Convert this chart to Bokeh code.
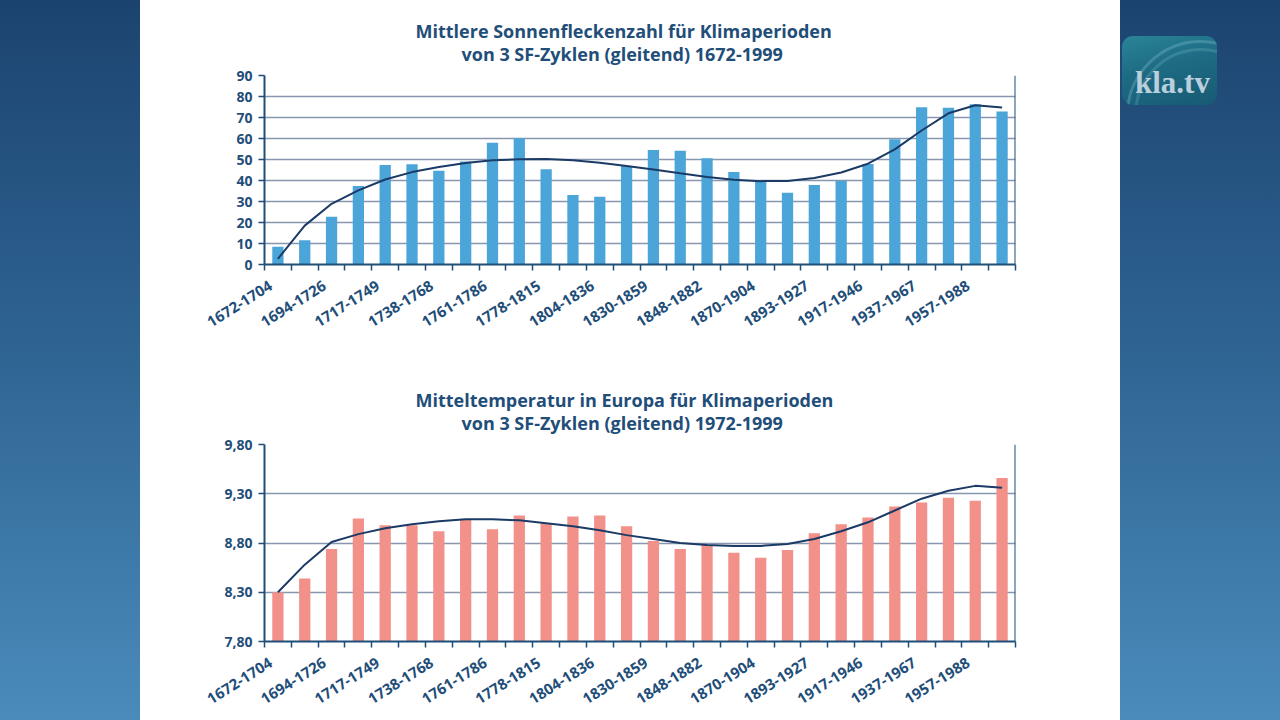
from bokeh.plotting import figure
from bokeh.models import FixedTicker, CustomJSTickFormatter, Span, Title, Div, Spacer
from bokeh.layouts import row, column
from bokeh.embed import file_html
from bokeh.resources import INLINE

# ---------------- data ----------------
period_labels = ["1672-1704", "1694-1726", "1717-1749", "1738-1768", "1761-1786",
                 "1778-1815", "1804-1836", "1830-1859", "1848-1882", "1870-1904",
                 "1893-1927", "1917-1946", "1937-1967", "1957-1988"]
period_index = list(range(28))          # 28 sliding periods, every 2nd labelled
label_index = list(range(0, 28, 2))

sunspots = [8.4, 11.6, 22.7, 37.4, 47.4, 47.7, 44.7, 49.0, 58.0, 60.1, 45.3, 33.1,
            32.3, 46.9, 54.5, 54.2, 50.6, 44.0, 39.4, 34.2, 37.8, 39.9, 47.9, 59.6,
            74.9, 74.6, 76.3, 72.8]
sunspot_trend = [2.7, 18.5, 28.9, 35.3, 40.5, 44.0, 46.4, 48.3, 49.6, 50.1, 50.2, 49.6,
                 48.4, 46.9, 45.2, 43.4, 41.7, 40.4, 39.7, 39.8, 41.2, 43.8, 48.0, 54.8,
                 63.8, 72.0, 75.8, 74.8]

temperature = [8.30, 8.44, 8.74, 9.05, 8.98, 8.98, 8.92, 9.04, 8.94, 9.08, 9.00, 9.07,
               9.08, 8.97, 8.82, 8.74, 8.78, 8.70, 8.65, 8.73, 8.90, 8.99, 9.06, 9.17,
               9.21, 9.26, 9.23, 9.46]
temperature_trend = [8.30, 8.58, 8.81, 8.89, 8.95, 8.99, 9.02, 9.04, 9.04, 9.03, 9.00, 8.97,
                     8.93, 8.88, 8.84, 8.80, 8.78, 8.77, 8.77, 8.79, 8.84, 8.92, 9.01, 9.13,
                     9.25, 9.33, 9.38, 9.36]

sun_ticks = [0, 10, 20, 30, 40, 50, 60, 70, 80, 90]
temp_ticks = [7.8, 8.3, 8.8, 9.3, 9.8]

titles_top = ["Mittlere Sonnenfleckenzahl für Klimaperioden",
              "von 3 SF-Zyklen (gleitend) 1672-1999"]
titles_bottom = ["Mitteltemperatur in Europa für Klimaperioden",
                 "von 3 SF-Zyklen (gleitend) 1972-1999"]

# ---------------- style ----------------
NAVY = "#1F4E79"
CURVE = "#1B3A66"
GRID = "#8797AE"
FONT = "Open Sans"
LABEL_SHIFT = 0.26   # rotated labels end slightly left of the bar centre


def make_chart(titles, values, trend, bar_color, y0, y1, yticks, height,
               top_border, bottom_border, decimal=False):
    p = figure(width=980, height=height, x_range=(-0.5, 27.5), y_range=(y0, y1),
               output_backend="svg", toolbar_location=None,
               min_border_left=124, min_border_right=105,
               min_border_top=top_border, min_border_bottom=bottom_border,
               background_fill_color="white", border_fill_color="white",
               outline_line_color=None, title=titles[0])
    # outer title line (line 1)
    p.title.align = "left"
    p.title.offset = 151
    p.title.text_font = FONT
    p.title.text_font_size = "18px"
    p.title.text_font_style = "bold"
    p.title.text_color = NAVY
    p.title.standoff = -25.5
    # inner title line (line 2), closer to the frame
    t2 = Title(text=titles[1], align="left", offset=197, text_font=FONT,
               text_font_size="18px", text_font_style="bold", text_color=NAVY,
               standoff=18.5)
    p.add_layout(t2, "above")

    p.vbar(x=period_index, top=values, bottom=y0, width=0.42,
           fill_color=bar_color, line_color=None)
    p.line(period_index, trend, line_color=CURVE, line_width=2)

    xa = p.xaxis[0]
    xa.ticker = FixedTicker(ticks=[i - LABEL_SHIFT for i in label_index],
                            minor_ticks=[i - 0.5 for i in range(29)])
    xa.formatter = CustomJSTickFormatter(
        args=dict(labels=period_labels, shift=LABEL_SHIFT),
        code="const k = Math.round((tick + shift) / 2); return labels[k] ?? '';")
    xa.axis_line_color = NAVY
    xa.axis_line_width = 2
    xa.major_tick_line_color = None
    xa.minor_tick_line_color = NAVY
    xa.minor_tick_line_width = 1.5
    xa.minor_tick_out = 6
    xa.minor_tick_in = 0
    xa.major_label_orientation = 0.56
    xa.major_label_standoff = 14
    xa.major_label_text_font = FONT
    xa.major_label_text_font_size = "15px"
    xa.major_label_text_font_style = "bold"
    xa.major_label_text_color = NAVY

    ya = p.yaxis[0]
    ya.ticker = FixedTicker(ticks=yticks)
    if decimal:
        ya.formatter = CustomJSTickFormatter(code="return tick.toFixed(2).replace('.', ',');")
    ya.axis_line_color = NAVY
    ya.axis_line_width = 2
    ya.major_tick_line_color = NAVY
    ya.major_tick_line_width = 1.5
    ya.major_tick_out = 6
    ya.major_tick_in = 0
    ya.minor_tick_line_color = None
    ya.major_label_standoff = 6
    ya.major_label_text_font = FONT
    ya.major_label_text_font_size = "14px"
    ya.major_label_text_font_style = "bold"
    ya.major_label_text_color = NAVY

    p.xgrid.grid_line_color = None
    p.ygrid.ticker = FixedTicker(ticks=yticks)
    p.ygrid.grid_line_color = GRID
    p.ygrid.grid_line_width = 1.5

    p.add_layout(Span(location=27.5, dimension="height", line_color=NAVY, line_width=2))
    return p


p1 = make_chart(titles_top, sunspots, sunspot_trend, "#4CA5D8", 0, 90, sun_ticks,
                370, 75, 106)
p2 = make_chart(titles_bottom, temperature, temperature_trend, "#F2918A", 7.8, 9.8,
                temp_ticks, 350, 74, 79, decimal=True)

logo_html = """
<div style="position:relative;width:160px;height:130px;">
  <div style="position:absolute;left:2px;top:36px;width:95px;height:69px;border-radius:11px;overflow:hidden;
       background:linear-gradient(165deg,#2b8498 0%,#1d6b83 45%,#185a74 100%);">
    <div style="position:absolute;left:4px;top:4px;width:150px;height:150px;border-radius:50%;
         border:3px solid rgba(140,200,215,0.30);"></div>
    <div style="position:absolute;left:12px;top:12px;width:134px;height:134px;border-radius:50%;
         border:3px solid rgba(140,200,215,0.22);"></div>
  </div>
  <div style="position:absolute;left:15px;top:67px;font-family:'Liberation Serif','DejaVu Serif',serif;
       font-weight:bold;font-size:31px;line-height:31px;color:#b9cfdb;">kla.tv</div>
</div>
"""
logo = Div(text=logo_html, width=160, height=130, margin=0)

left = Spacer(width=140, height=720)
center = column(p1, p2, width=980, height=720, styles={"background-color": "white"})
right = column(logo, width=160, height=720)
root = row(left, center, right, width=1280, height=720,
           styles={"background": "linear-gradient(to bottom, #1c4370 0%, #2f6593 50%, #4a8bbb 100%)"})

open("out.html", "w").write(file_html(root, INLINE))
